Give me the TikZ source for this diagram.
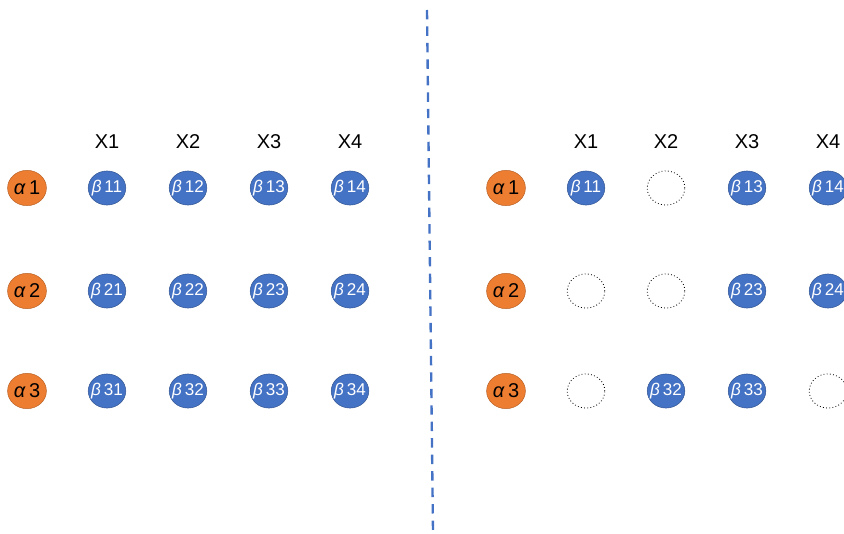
\documentclass[tikz,border=0pt]{standalone}
\usepackage{fontspec}
\setmainfont{Liberation Sans}
\usetikzlibrary{shapes.geometric,positioning}
\definecolor{accorange}{HTML}{ED7D31}
\definecolor{orangeline}{HTML}{B65F24}
\definecolor{accblue}{HTML}{4472C4}
\definecolor{blueline}{HTML}{2F528F}

\begin{document}
\begin{tikzpicture}[x=0.85pt, y=-0.85pt,
  anode/.style={ellipse, draw=orangeline, fill=accorange, inner sep=-4pt,
    minimum width=33pt, minimum height=30pt, font=\fontsize{17}{17}\selectfont},
  bnode/.style={ellipse, draw=blueline, fill=accblue, text=white, inner sep=-5pt,
    minimum width=32pt, minimum height=29pt, font=\fontsize{14.5}{14.5}\selectfont},
  gapnode/.style={ellipse, draw=black, dotted, line width=0.7pt, inner sep=0pt,
    minimum width=32pt, minimum height=29pt},
  head/.style={font=\fontsize{17}{17}\selectfont}]
  \useasboundingbox (0,0) rectangle (844,533);
  % divider
  \coordinate (top) at (427,10);
  \coordinate (bottom) at (433,533);
  \draw[accblue, line width=2pt, dash pattern=on 8pt off 6pt] (top) -- (bottom);
  % left: full grid
  \foreach \r/\y in {1/188, 2/291, 3/391} {
    \node[anode] (la\r) at (27,\y) {\textit{α}\,\r};
    \foreach \c/\x in {1/107, 2/188, 3/269, 4/350}
      \node[bnode] (lb\r\c) at (\x,\y) {\textit{β}\,\r\c};
  }
  \foreach \c/\x in {1/107, 2/188, 3/269, 4/350}
    \node[head] (lx\c) at (\x,142) {X\c};
  % right: grid with gaps
  \foreach \r/\y in {1/188, 2/291, 3/391}
    \node[anode] (ra\r) at (506,\y) {\textit{α}\,\r};
  \foreach \c/\x in {1/586, 2/666, 3/747, 4/828}
    \node[head] (rx\c) at (\x,142) {X\c};
  \foreach \r/\c/\x/\y in {1/1/586/188, 1/3/747/188, 1/4/828/188,
                           2/3/747/291, 2/4/828/291,
                           3/2/666/391, 3/3/747/391}
    \node[bnode] (rb\r\c) at (\x,\y) {\textit{β}\,\r\c};
  \foreach \r/\c/\x/\y in {1/2/666/188, 2/1/586/291, 2/2/666/291,
                           3/1/586/391, 3/4/828/391}
    \node[gapnode] (rg\r\c) at (\x,\y) {};
\end{tikzpicture}
\end{document}
